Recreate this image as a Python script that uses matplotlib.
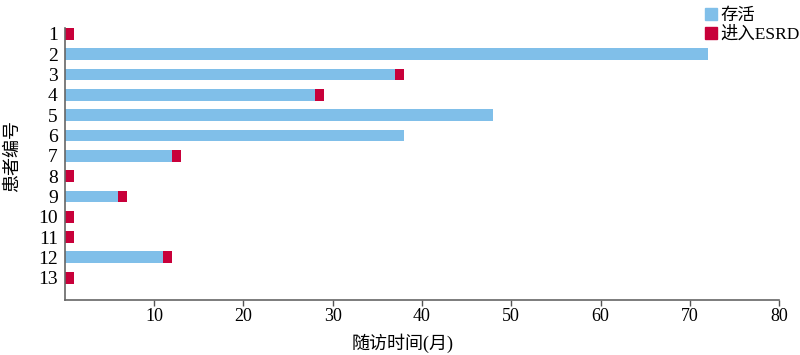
import matplotlib.pyplot as plt
from matplotlib.patches import Patch

plt.rcParams['font.family'] = ['Liberation Serif', 'Noto Sans CJK SC']

# patient ids, months survived, months until ESRD (0 = none)
patients = list(range(1, 14))
alive = [0, 72, 37, 28, 48, 38, 12, 0, 6, 0, 0, 11, 0]
esrd = [1, 0, 1, 1, 0, 0, 1, 1, 1, 1, 1, 1, 1]
x_ticks = [10, 20, 30, 40, 50, 60, 70, 80]

BLUE = '#80bfe9'
RED = '#c8003a'

fig = plt.figure(figsize=(8, 3.55), dpi=100)
ax = fig.add_axes([0.081, 0.155, 0.893, 0.766])

ax.barh(patients, alive, height=0.58, color=BLUE)
ax.barh(patients, esrd, left=alive, height=0.58, color=RED)

ax.set_xlim(0, 80)
ax.set_ylim(14.1, 0.71)
ax.set_xticks(x_ticks)
ax.set_yticks(patients)
ax.tick_params(axis='y', length=0, pad=5, labelsize=14)
ax.tick_params(axis='x', length=4, width=1, pad=2, labelsize=13, color='#555555')

for s in ['top', 'right']:
    ax.spines[s].set_visible(False)
for s in ['left', 'bottom']:
    ax.spines[s].set_color('#666666')
    ax.spines[s].set_linewidth(1.2)

ax.set_xlabel('随访时间(月)', fontsize=13)
ax.xaxis.set_label_coords(0.473, -0.125)
ax.set_ylabel('患者编号', fontsize=13)
ax.yaxis.set_label_coords(-0.062, 0.53)

handles = [Patch(color=BLUE, label='存活'), Patch(color=RED, label='进入ESRD')]
fig.legend(handles=handles, loc='upper left', bbox_to_anchor=(0.872, 0.997),
           frameon=False, fontsize=12.5, handlelength=0.7, handleheight=0.7,
           handletextpad=0.2, labelspacing=0.15, borderaxespad=0)

fig.savefig('out.png', dpi=100)
